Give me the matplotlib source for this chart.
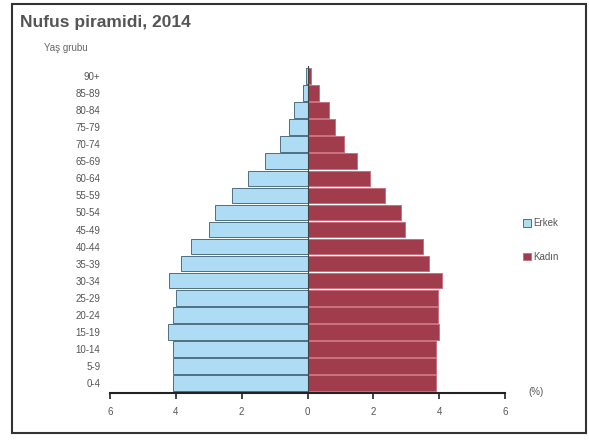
import matplotlib
matplotlib.use("Agg")
import matplotlib.pyplot as plt
from matplotlib.patches import Rectangle

plt.rcParams['font.family'] = ['Liberation Sans', 'DejaVu Sans']

age_groups = ["0-4", "5-9", "10-14", "15-19", "20-24", "25-29", "30-34", "35-39",
              "40-44", "45-49", "50-54", "55-59", "60-64", "65-69", "70-74",
              "75-79", "80-84", "85-89", "90+"]
male = [4.1, 4.1, 4.1, 4.25, 4.1, 4.0, 4.2, 3.85, 3.55, 3.0, 2.8, 2.3, 1.8,
        1.3, 0.85, 0.55, 0.4, 0.15, 0.05]
female = [3.9, 3.9, 3.9, 4.0, 3.95, 3.95, 4.1, 3.7, 3.5, 2.95, 2.85, 2.35, 1.9,
          1.5, 1.1, 0.85, 0.65, 0.35, 0.12]
xticks = [-6, -4, -2, 0, 2, 4, 6]
xticklabels = ["6", "4", "2", "0", "2", "4", "6"]
legend_labels = ["Erkek", "Kadın"]

male_color = "#aedcf4"
female_color = "#a03c4c"

fig = plt.figure(figsize=(5.89, 4.43), dpi=100)
ax = fig.add_axes([110/589, 1-393/443, 395/589, 327/443])

y = list(range(len(age_groups)))
ax.barh(y, [-v for v in male], height=0.92, color=male_color,
        edgecolor="#4f6f80", linewidth=0.7, label=legend_labels[0])
ax.barh(y, female, height=0.92, color=female_color,
        edgecolor="#c87080", linewidth=0.7, label=legend_labels[1])
ax.axvline(0, color="#444444", linewidth=0.8)

ax.set_xlim(-6, 6)
ax.set_ylim(-0.59, 18.59)
ax.set_xticks(xticks)
ax.set_xticklabels(xticklabels, fontsize=7, color="#555555")
ax.set_yticks(y)
ax.set_yticklabels(age_groups, fontsize=7, color="#555555")
ax.tick_params(axis='y', length=0, pad=7)
ax.tick_params(axis='x', length=4, width=1.2, color="#222222", pad=6)
for s in ["top", "right", "left"]:
    ax.spines[s].set_visible(False)
ax.spines["bottom"].set_linewidth(1.5)
ax.spines["bottom"].set_color("#222222")

fig.text(20/589, 1-22/443, "Nufus piramidi, 2014", fontsize=12.5, fontweight="bold",
         color="#555555", va="center", ha="left")
fig.text(44/589, 1-48/443, "Yaş grubu", fontsize=7, color="#666666",
         va="center", ha="left")
fig.text(528/589, 1-392/443, "(%)", fontsize=7, color="#555555",
         va="center", ha="left")

leg = fig.legend(loc="center left", bbox_to_anchor=(514/589, 1-240/443),
                 frameon=False, fontsize=7, handlelength=0.8, handleheight=0.8,
                 labelspacing=2.4, handletextpad=0.3)
for t in leg.get_texts():
    t.set_color("#555555")

fig.patches.append(Rectangle((12/589, 1-433/443), 574/589, 429/443,
                             transform=fig.transFigure, fill=False,
                             edgecolor="#333333", linewidth=1.5))

fig.savefig("out.png", dpi=100)
